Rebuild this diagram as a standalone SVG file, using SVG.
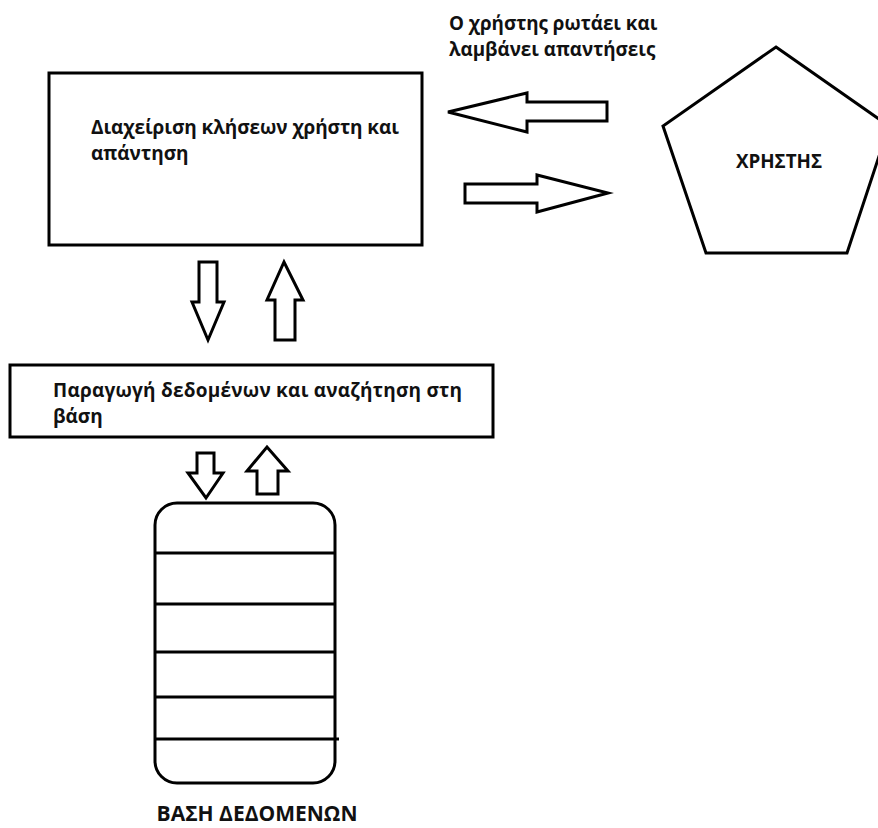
<svg xmlns="http://www.w3.org/2000/svg" width="878" height="828" viewBox="0 0 878 828">
<style>
.sh{fill:#fff;stroke:#000;stroke-width:3;stroke-linejoin:miter}
.ln{stroke:#000;stroke-width:3}
.bt{font-family:"Open Sans",sans-serif;font-weight:bold;font-size:19px;fill:#111}
.ct{font-family:"Open Sans",sans-serif;font-weight:bold;font-size:18.8px;fill:#111}
</style>
<rect width="878" height="828" fill="#fff"/>
<g id="node-handler">
<rect class="sh" x="49" y="73" width="373" height="172"/>
<text class="bt" x="91" y="134" textLength="308">Διαχείριση κλήσεων χρήστη και</text>
<text class="bt" x="91" y="160">απάντηση</text>
</g>
<g id="node-user">
<polygon class="sh" points="776,47 889,126 847,253 706,253 663,126"/>
<text class="ct" x="779" y="168" text-anchor="middle">ΧΡΗΣΤΗΣ</text>
</g>
<g id="label-user">
<text class="ct" x="449" y="30">Ο χρήστης ρωτάει και</text>
<text class="ct" x="449" y="56">λαμβάνει απαντήσεις</text>
</g>
<g id="node-generation">
<rect class="sh" x="10" y="365" width="483" height="72"/>
<text class="bt" x="53" y="397" textLength="409">Παραγωγή δεδομένων και αναζήτηση στη</text>
<text class="bt" x="53" y="423">βάση</text>
</g>
<g id="node-database">
<rect class="sh" x="155" y="503" width="180" height="280" rx="22" ry="22"/>
<line class="ln" x1="155" y1="553" x2="335" y2="553"/>
<line class="ln" x1="155" y1="604" x2="335" y2="604"/>
<line class="ln" x1="155" y1="652" x2="335" y2="652"/>
<line class="ln" x1="155" y1="697" x2="335" y2="697"/>
<line class="ln" x1="155" y1="739" x2="339" y2="739"/>
<text class="ct" x="257" y="821" text-anchor="middle" style="font-size:21px">ΒΑΣΗ ΔΕΔΟΜΕΝΩΝ</text>
</g>
<g id="connectors">
<polygon class="sh" points="607,102 527,102 527,93 448,112 527,132 527,121 607,121"/>
<polygon class="sh" points="465,184 537,184 537,175 608,193 537,212 537,203 465,203"/>
<polygon class="sh" points="199,262 217,262 217,302 224,302 208,340 192,302 199,302"/>
<polygon class="sh" points="275,340 295,340 295,300 303,300 284,262 267,300 275,300"/>
<polygon class="sh" points="197,453 214,453 214,473 223,473 206,498 188,473 197,473"/>
<polygon class="sh" points="257,494 278,494 278,471 288,471 267,447 247,471 257,471"/>
</g>
</svg>
